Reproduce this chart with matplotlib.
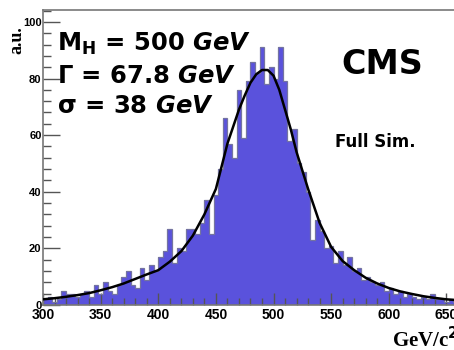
import numpy as np
import matplotlib
matplotlib.use("Agg")
import matplotlib.pyplot as plt
from matplotlib.ticker import MultipleLocator

# histogram: 4 GeV bins from 300 to 660
bin_edges = np.arange(300, 661, 4)
counts = [
    2, 3, 1, 2, 5, 4, 4, 3, 4, 5,
    3, 7, 4, 8, 5, 4, 7, 10, 12, 7,
    6, 13, 9, 14, 12, 17, 19, 27, 15, 20,
    19, 27, 27, 25, 29, 37, 25, 39, 48, 66,
    57, 52, 76, 59, 79, 86, 82, 91, 78, 84,
    80, 91, 79, 58, 62, 50, 47, 40, 23, 30,
    26, 20, 21, 15, 19, 14, 17, 12, 13, 9,
    10, 8, 7, 8, 5, 6, 4, 5, 3, 4,
    3, 2, 3, 2, 4, 2, 2, 1, 2, 1,
]

# fitted curve
fit_x = [300, 310, 320, 330, 340, 350, 360, 370, 380, 390, 400, 410, 420, 430,
         440, 450, 455, 460, 465, 470, 475, 480, 485, 490, 495, 500, 505, 510,
         515, 520, 525, 530, 540, 550, 560, 570, 580, 590, 600, 610, 620, 630,
         640, 650, 660]
fit_y = [2.0, 2.4, 2.9, 3.5, 4.2, 5.2, 6.3, 7.6, 9.2, 10.8, 12.3, 15.3, 19.0, 24.5,
         32.0, 41.0, 49.0, 57.0, 63.0, 69.0, 74.0, 78.5, 81.5, 83.0, 83.0, 81.0, 76.0, 69.0,
         62.0, 54.0, 47.5, 41.0, 29.0, 20.5, 15.5, 12.3, 9.6, 7.6, 6.0, 4.8, 3.9, 3.1,
         2.5, 2.0, 1.7]

x_ticks = [300, 350, 400, 450, 500, 550, 600, 650]
y_ticks = [0, 20, 40, 60, 80, 100]

plt.rcParams['mathtext.fontset'] = 'custom'
plt.rcParams['mathtext.rm'] = 'DejaVu Sans:bold'
plt.rcParams['mathtext.bf'] = 'DejaVu Sans:bold'
plt.rcParams['mathtext.it'] = 'DejaVu Sans:italic:bold'

W, H = 454, 350
fig = plt.figure(figsize=(W / 100, H / 100), dpi=100)
ax = fig.add_axes([43 / W, 45 / H, 438 / W, 295 / H])

ax.stairs(counts, bin_edges, fill=True, color='#5a52dc', zorder=1)
ax.stairs(counts, bin_edges, color='#7474a0', lw=0.9, zorder=2)
ax.plot(fit_x, fit_y, color='black', lw=1.8, zorder=3)

ax.set_xlim(300, 680)
ax.set_ylim(0, 104.2)

ax.set_xticks(x_ticks)
ax.set_yticks(y_ticks)
ax.xaxis.set_minor_locator(MultipleLocator(10))
ax.yaxis.set_minor_locator(MultipleLocator(4))
ax.tick_params(direction='in', which='major', length=12, width=1, color='#555555',
               top=False, right=False)
ax.tick_params(direction='in', which='minor', length=6, width=1, color='#555555',
               top=False, right=False)
ax.tick_params(axis='x', which='major', length=9, pad=2)
ax.tick_params(axis='x', which='minor', length=5)
ax.tick_params(axis='y', pad=1)
for lab in ax.get_xticklabels() + ax.get_yticklabels():
    lab.set_fontfamily('Liberation Sans')
    lab.set_fontweight('bold')
for lab in ax.get_xticklabels():
    lab.set_fontsize(10)
for lab in ax.get_yticklabels():
    lab.set_fontsize(8)

for s in ax.spines.values():
    s.set_color('#777777')
    s.set_linewidth(1.2)

fig.text(57 / W, 1 - 44 / H, r'$\mathrm{M}_\mathrm{H}$ = 500 $\mathit{GeV}$',
         fontsize=17.5, fontweight='bold', va='center', ha='left')
fig.text(57 / W, 1 - 76 / H, r'$\mathrm{\Gamma}$ = 67.8 $\mathit{GeV}$',
         fontsize=17.5, fontweight='bold', va='center', ha='left')
fig.text(57 / W, 1 - 106 / H, r'$\mathrm{\sigma}$ = 38 $\mathit{GeV}$',
         fontsize=17.5, fontweight='bold', va='center', ha='left')
fig.text(382 / W, 1 - 64 / H, 'CMS', fontsize=24, fontweight='bold',
         va='center', ha='center')
fig.text(375 / W, 1 - 142 / H, 'Full Sim.', fontsize=12, fontweight='bold',
         va='center', ha='center')

fig.text(17 / W, 1 - 40 / H, 'a.u.', family='Liberation Serif', fontsize=13,
         fontweight='bold', rotation=90, va='center', ha='center')
fig.text(392 / W, 1 - 340 / H, r'GeV/c$^{2}$', family='Liberation Serif', fontsize=15,
         fontweight='bold', va='center', ha='left')

fig.savefig('out.png', dpi=100)
